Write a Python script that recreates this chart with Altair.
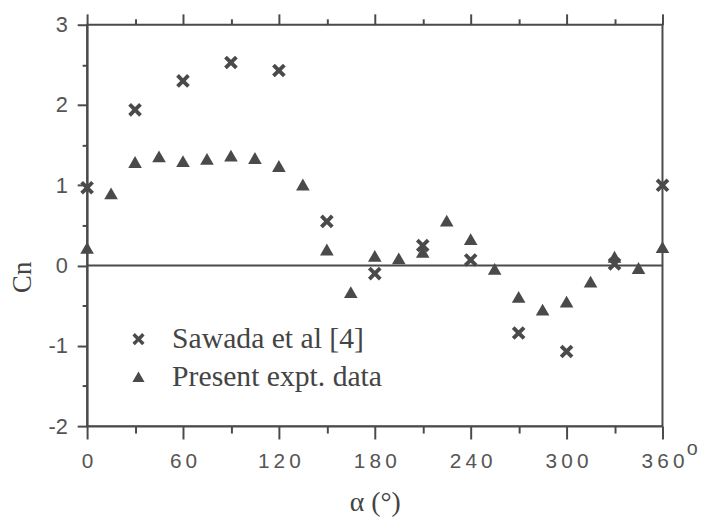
import altair as alt
import pandas as pd

# Present experimental data (triangles)
tri_alpha = [0, 15, 30, 45, 60, 75, 90, 105, 120, 135, 150, 165, 180,
             195, 210, 225, 240, 255, 270, 285, 300, 315, 330, 345, 360]
tri_cn = [0.22, 0.90, 1.29, 1.36, 1.30, 1.33, 1.37, 1.34, 1.24, 1.01, 0.20, -0.33, 0.12,
          0.09, 0.17, 0.56, 0.33, -0.04, -0.39, -0.55, -0.45, -0.20, 0.11, -0.03, 0.23]

# Sawada et al [4] (crosses)
saw_alpha = [0, 30, 60, 90, 120, 150, 180, 210, 240, 270, 300, 330, 360]
saw_cn = [0.97, 1.94, 2.30, 2.53, 2.43, 0.55, -0.10, 0.25, 0.07, -0.84, -1.07, 0.02, 1.00]

series_names = ["Sawada et al [4]", "Present expt. data"]
x_ticks = list(range(0, 361, 30))
y_ticks = [-2, -1.5, -1, -0.5, 0, 0.5, 1, 1.5, 2, 2.5, 3]

df = pd.DataFrame({
    "alpha": saw_alpha + tri_alpha,
    "cn": saw_cn + tri_cn,
    "series": [series_names[0]] * len(saw_alpha) + [series_names[1]] * len(tri_alpha),
})

INK = "#4a4a4a"
XPATH = ("M-1,-0.6L-0.4,0L-1,0.6L-0.6,1L0,0.4L0.6,1L1,0.6L0.4,0L1,-0.6"
         "L0.6,-1L0,-0.4L-0.6,-1Z")

xscale = alt.Scale(domain=[0, 360], nice=False, zero=False)
yscale = alt.Scale(domain=[-2, 3], nice=False, zero=False)

x_tick_size = {"condition": {"test": "datum.value % 60 === 0", "value": 13}, "value": 7}
y_tick_size = {"condition": {"test": "datum.value % 1 === 0", "value": 10}, "value": 5}

points = alt.Chart(df).mark_point(filled=True, opacity=1, color=INK, size=190).encode(
    x=alt.X("alpha:Q", scale=xscale,
            axis=alt.Axis(orient="bottom", values=x_ticks, grid=False,
                          labelExpr="datum.value % 60 === 0 ? join(split(datum.label, ''), '\u2009') : ''",
                          labelOverlap=False, labelFlush=False,
                          labelFont="Liberation Sans", labelFontSize=21, labelColor="#555555",
                          labelPadding=12,
                          tickSize=x_tick_size, tickWidth=2, tickColor=INK,
                          domainColor=INK, domainWidth=2,
                          title="α (°)", titleFont="Liberation Serif", titleFontSize=28,
                          titleFontWeight="normal", titleColor="#444444",
                          titleBaseline="middle", titleY=77)),
    y=alt.Y("cn:Q", scale=yscale,
            axis=alt.Axis(orient="left", values=y_ticks, grid=False,
                          labelExpr="datum.value % 1 === 0 ? '' + datum.value : ''",
                          labelOverlap=False, labelFlush=False,
                          labelFont="Liberation Sans", labelFontSize=22, labelColor="#555555",
                          labelPadding=10,
                          tickSize=y_tick_size, tickWidth=2, tickColor=INK,
                          domainColor=INK, domainWidth=2,
                          title="Cn", titleFont="Liberation Serif", titleFontSize=27,
                          titleFontWeight="normal", titleColor="#444444",
                          titleBaseline="middle", titleX=-65, titleY=255)),
    shape=alt.Shape("series:N",
                    scale=alt.Scale(domain=series_names, range=[XPATH, "triangle-up"]),
                    legend=alt.Legend(orient="none", legendX=37, legendY=303, title=None,
                                      labelFont="Liberation Serif", labelFontSize=30,
                                      labelColor="#444444", labelOffset=19, labelLimit=0,
                                      symbolSize=150, symbolFillColor=INK,
                                      symbolStrokeWidth=0, rowPadding=8, padding=0)),
)

zero_line = alt.Chart(pd.DataFrame({"z": [0]})).mark_rule(color=INK, strokeWidth=2).encode(
    y=alt.Y("z:Q", scale=yscale)
)

degree = alt.Chart(pd.DataFrame({"t": ["o"]})).mark_text(
    font="Liberation Sans", fontSize=20, color="#555555", dx=30, dy=23, baseline="middle"
).encode(
    x=alt.X(datum=360, scale=xscale,
            axis=alt.Axis(orient="top", values=x_ticks, labels=False, domain=False,
                          grid=False, title=None,
                          tickSize={"condition": {"test": "datum.value % 60 === 0", "value": 11},
                                    "value": 6},
                          tickWidth=2, tickColor=INK)),
    y=alt.Y(datum=-2, scale=yscale),
    text="t:N",
)

chart = alt.layer(zero_line, points, degree).resolve_axis(x="independent").properties(
    width=582, height=406,
    autosize=alt.AutoSizeParams(type="none"),
    padding={"left": 80, "top": 14, "right": 43, "bottom": 90},
    background="white",
).configure_view(stroke=INK, strokeWidth=2)

chart.save("out.html", embed_options={"renderer": "svg", "actions": False})
